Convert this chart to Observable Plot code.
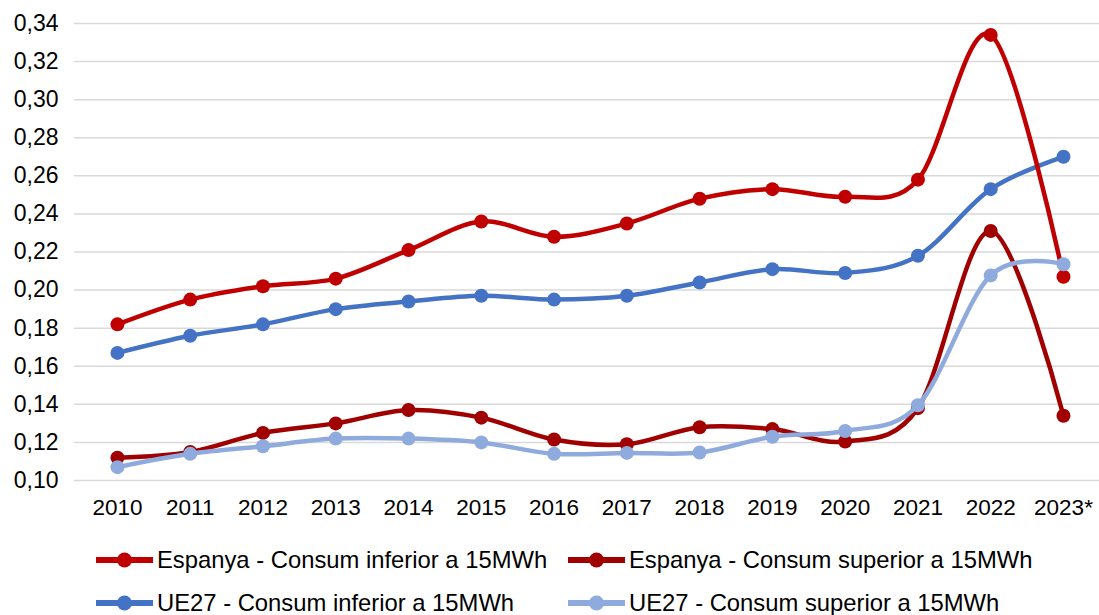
<!DOCTYPE html>
<html>
<head>
<meta charset="utf-8">
<script src="https://cdn.jsdelivr.net/npm/d3@7"></script>
<script src="https://cdn.jsdelivr.net/npm/@observablehq/plot@0.6"></script>
<style>
  html, body { margin: 0; padding: 0; background: #fff; }
  body { width: 1099px; height: 615px; overflow: hidden; font-family: "Liberation Sans", Arial, sans-serif; }
  #legend { position: relative; height: 90px; }
  .item { position: absolute; display: flex; align-items: center; font-size: 23.8px; color: #000; white-space: nowrap; line-height: 1; }
  .item svg { margin-right: 4px; }
</style>
</head>
<body>
<div id="chart"></div>
<div id="legend"></div>
<script>
const years = ["2010","2011","2012","2013","2014","2015","2016","2017","2018","2019","2020","2021","2022","2023*"];
const seriesNames = [
  "Espanya - Consum inferior a 15MWh",
  "Espanya - Consum superior a 15MWh",
  "UE27 - Consum inferior a 15MWh",
  "UE27 - Consum superior a 15MWh"
];
const espanyaInferior = [0.182, 0.195, 0.202, 0.206, 0.221, 0.236, 0.228, 0.235, 0.248, 0.253, 0.249, 0.258, 0.334, 0.207];
const espanyaSuperior = [0.112, 0.115, 0.125, 0.130, 0.137, 0.133, 0.1215, 0.119, 0.128, 0.127, 0.1205, 0.138, 0.231, 0.134];
const ue27Inferior   = [0.167, 0.176, 0.182, 0.190, 0.194, 0.197, 0.195, 0.197, 0.204, 0.211, 0.209, 0.218, 0.253, 0.270];
const ue27Superior   = [0.107, 0.114, 0.118, 0.122, 0.122, 0.120, 0.114, 0.1145, 0.1147, 0.123, 0.126, 0.1395, 0.2077, 0.2136];
const colors = ["#C00000", "#A00000", "#4472C4", "#8FAADC"];
const yTicks = [0.10, 0.12, 0.14, 0.16, 0.18, 0.20, 0.22, 0.24, 0.26, 0.28, 0.30, 0.32, 0.34];

const allSeries = [espanyaInferior, espanyaSuperior, ue27Inferior, ue27Superior];
const data = allSeries.flatMap((vals, s) => vals.map((v, i) => ({i, v, s: seriesNames[s]})));
const drawOrder = [2, 0, 1, 3];

const fmt = d => d.toFixed(2).replace(".", ",");

const marks = [
  Plot.ruleY(yTicks, {stroke: "#d9d9d9", strokeWidth: 1.5}),
  Plot.axisY(yTicks, {tickSize: 0, tickPadding: 16, tickFormat: fmt, fontSize: 23, label: null}),
  Plot.axisX(d3.range(years.length), {tickSize: 0, tickPadding: 19, tickFormat: i => years[i], fontSize: 22.5, label: null})
];
for (const s of drawOrder) {
  const d = data.filter(r => r.s === seriesNames[s]);
  marks.push(Plot.line(d, {x: "i", y: "v", stroke: colors[s], strokeWidth: 4.5, curve: "cardinal", tension: 0}));
  marks.push(Plot.dot(d, {x: "i", y: "v", fill: colors[s], r: 7, stroke: "none"}));
}

const chart = Plot.plot({
  width: 1099,
  height: 525,
  marginLeft: 74,
  marginRight: 0,
  marginTop: 23,
  marginBottom: 45,
  style: {fontFamily: "'Liberation Sans', Arial, sans-serif", color: "#000", background: "#fff"},
  x: {type: "linear", domain: [-0.59, 13.495]},
  y: {domain: [0.10, 0.34]},
  marks
});
document.getElementById("chart").appendChild(chart);

// Legend
const legend = document.getElementById("legend");
const pos = [[96, 35], [568, 35], [96, 78], [568, 78]];
seriesNames.forEach((name, s) => {
  const div = document.createElement("div");
  div.className = "item";
  div.style.left = pos[s][0] + "px";
  div.style.top = (pos[s][1] - 12) + "px";
  div.innerHTML = `<svg width="57" height="24"><line x1="0" y1="12" x2="57" y2="12" stroke="${colors[s]}" stroke-width="6"/><circle cx="28.5" cy="12" r="7.5" fill="${colors[s]}"/></svg><span>${name}</span>`;
  legend.appendChild(div);
});
</script>
</body>
</html>
